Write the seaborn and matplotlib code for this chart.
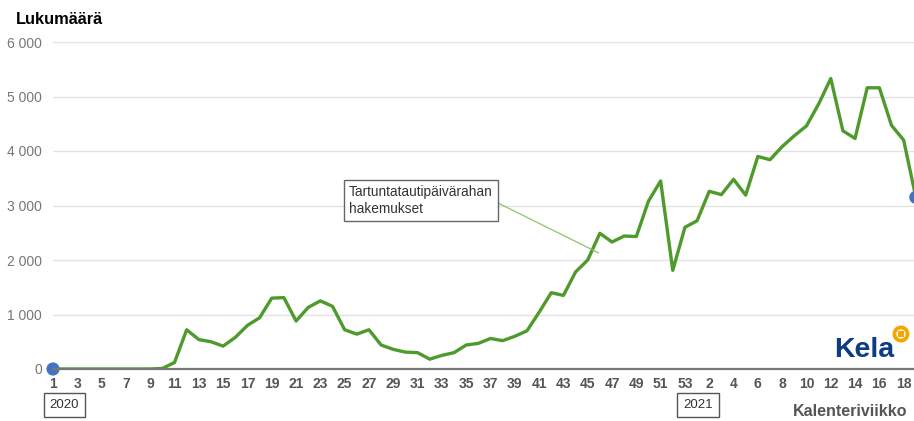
import matplotlib
matplotlib.use("Agg")
import matplotlib.pyplot as plt
import numpy as np
import pandas as pd
import seaborn as sns

# weekly counts of applications, 2020 week 1 .. 2021 week 19
weeks_2020 = list(range(1, 54))
weeks_2021 = list(range(1, 20))
values_2020 = [0, 0, 0, 0, 0, 0, 0, 0, 0, 10,
               120, 720, 540, 500, 420, 580, 800, 940, 1300, 1310,
               880, 1130, 1250, 1150, 720, 640, 720, 440, 360, 310,
               300, 180, 250, 300, 440, 470, 560, 520, 600, 700,
               1040, 1400, 1350, 1780, 2000, 2490, 2330, 2440, 2430, 3080,
               3450, 1810, 2600]
values_2021 = [2720, 3260, 3200, 3480, 3190, 3900, 3840, 4080, 4280, 4460,
               4860, 5330, 4370, 4230, 5160, 5160, 4470, 4200, 3150]
y_ticks = [0, 1000, 2000, 3000, 4000, 5000, 6000]
series_label = "Tartuntatautipäivärahan\nhakemukset"

week_labels = [str(w) for w in weeks_2020] + [str(w) for w in weeks_2021]
df = pd.DataFrame({"pos": np.arange(len(week_labels)),
                   "value": values_2020 + values_2021})

sns.set_style("white")
plt.rcParams["font.family"] = ["Liberation Sans", "DejaVu Sans"]

W, H = 914, 421
fig = plt.figure(figsize=(W / 100, H / 100), dpi=100)
ax = fig.add_axes([53 / W, 52 / H, 1 - 53 / W, (369 - 42) / H])

sns.lineplot(data=df, x="pos", y="value", ax=ax, color="#4e9a2c", linewidth=2.4)
ends = df.iloc[[0, -1]]
sns.scatterplot(data=ends, x="pos", y="value", ax=ax, color="#4472c4", s=90,
                edgecolor="none", zorder=5, clip_on=False)

ax.set_xlim(0, 70.85)
ax.set_ylim(0, 6000)
ax.set_yticks(y_ticks)
ax.set_yticklabels(["{:,}".format(v).replace(",", " ") for v in y_ticks],
                   color="#777777", fontsize=10)
ax.set_xticks(df["pos"][::2])
ax.set_xticklabels(week_labels[::2], color="#555555", fontsize=10, fontweight="bold")
ax.tick_params(axis="both", length=0)
ax.tick_params(axis="x", pad=6)
ax.tick_params(axis="y", pad=8)
ax.yaxis.grid(True, color="#e3e3e3", linewidth=1)
ax.set_axisbelow(True)
for s in ["top", "right", "left"]:
    ax.spines[s].set_visible(False)
ax.spines["bottom"].set_color("#777777")
ax.spines["bottom"].set_linewidth(1.6)
ax.spines["bottom"].set_zorder(6)
ax.set_xlabel("")
ax.set_ylabel("")

fig.text(16 / W, 1 - 24 / H, "Lukumäärä", fontsize=11.8, fontweight="bold",
         color="black", ha="left", va="baseline")
fig.text(907 / W, 1 - 416 / H, "Kalenteriviikko", fontsize=11.5, fontweight="bold",
         color="#555555", ha="right", va="baseline")

year_box = dict(boxstyle="square,pad=0.45", fc="white", ec="#555555", lw=1)
fig.text(64.5 / W, 1 - 405 / H, "2020", fontsize=9.5, color="#333333",
         ha="center", va="center", bbox=year_box)
fig.text(698 / W, 1 - 405 / H, "2021", fontsize=9.5, color="#333333",
         ha="center", va="center", bbox=year_box)

ax.annotate(series_label, xy=(44.9, 2130), xycoords="data",
            xytext=(349, H - 185), textcoords="figure pixels",
            ha="left", va="top", fontsize=9.8, color="#333333", linespacing=1.25,
            bbox=dict(boxstyle="square,pad=0.4", fc="white", ec="#666666", lw=1),
            arrowprops=dict(arrowstyle="-", color="#8cc66a", lw=0.9,
                            relpos=(1, 0.5), shrinkA=0, shrinkB=0))

# Kela logo
fig.text(834 / W, 1 - 357 / H, "Kela", fontsize=20.5, fontweight="bold",
         color="#0d3c85", ha="left", va="baseline")
ax.scatter([901 / W], [1 - 334 / H], s=150, color="#f4a700", edgecolor="none",
           transform=fig.transFigure, clip_on=False, zorder=7)
ax.scatter([901 / W], [1 - 334 / H], s=45, color="white", edgecolor="none",
           transform=fig.transFigure, clip_on=False, zorder=8)
ax.scatter([901 / W], [1 - 334 / H], s=18, color="#f4a700", edgecolor="none",
           marker="s", transform=fig.transFigure, clip_on=False, zorder=9)

fig.savefig("out.png", dpi=100)
